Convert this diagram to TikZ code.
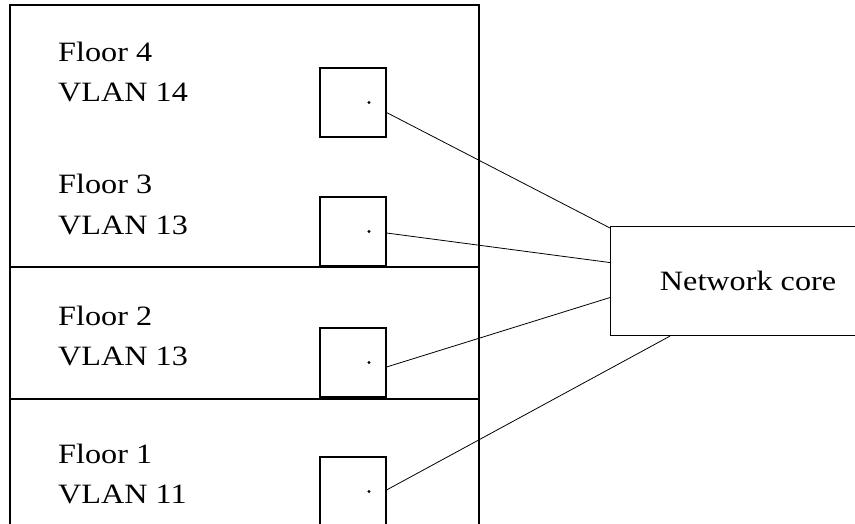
\documentclass[tikz,border=0pt]{standalone}
\usepackage{fontspec}
\setmainfont{Liberation Serif}[FakeStretch=1.15]
\usepackage{pgf,tikz}
\usetikzlibrary{positioning}

\begin{document}
\begin{tikzpicture}[x=1pt, y=-1pt,
	switchbox/.style={draw, line width=1.1pt, minimum width=66pt, minimum height=69pt, inner sep=0pt},
	corebox/.style={draw, line width=1.1pt, minimum width=275pt, minimum height=109pt, anchor=north west},
	floorlabel/.style={anchor=base west, align=left, inner sep=0pt, font=\fontsize{28}{40}\selectfont},
	link/.style={line width=0.8pt}]
	\useasboundingbox (0,0) rectangle (855,524);
	
	\draw[line width=1.1pt] (10,540) -- (10,5) -- (479,5) -- (479,540);
	\draw[line width=1.1pt] (10,267) -- (479,267);
	\draw[line width=1.1pt] (10,399) -- (479,399);
	
	% base anchor sits on the second line
	\node[floorlabel] (f4) at (58,102) {Floor 4\\VLAN 14};
	\node[floorlabel] (f3) at (58,234) {Floor 3\\VLAN 13};
	\node[floorlabel] (f2) at (58,365) {Floor 2\\VLAN 13};
	\node[floorlabel] (f1) at (58,503) {Floor 1\\VLAN 11};
	
	\node[switchbox] (sw4) at (353,102.5) {};
	\node[switchbox] (sw3) at (353,231.5) {};
	\node[switchbox] (sw2) at (353,362.5) {};
	\node[switchbox] (sw1) at (353,491.5) {};
	
	\foreach \s in {sw4,sw3,sw2,sw1}
		\fill ([xshift=16pt]\s.center) circle (1.6pt);
	
	\node[corebox, font=\fontsize{28}{34}\selectfont] (core) at (610,226) {Network core};
	
	\draw[link] ([yshift=-10pt]sw4.east) -- ([yshift=-2pt]core.north west);
	\draw[link] ([yshift=-1.5pt]sw3.east) -- ([yshift=18.5pt]core.west);
	\draw[link] ([yshift=-4.5pt]sw2.east) -- ([yshift=-16.5pt]core.west);
	\draw[link] ([yshift=1.5pt]sw1.east) -- ([xshift=60pt]core.south west);
\end{tikzpicture}
\end{document}
